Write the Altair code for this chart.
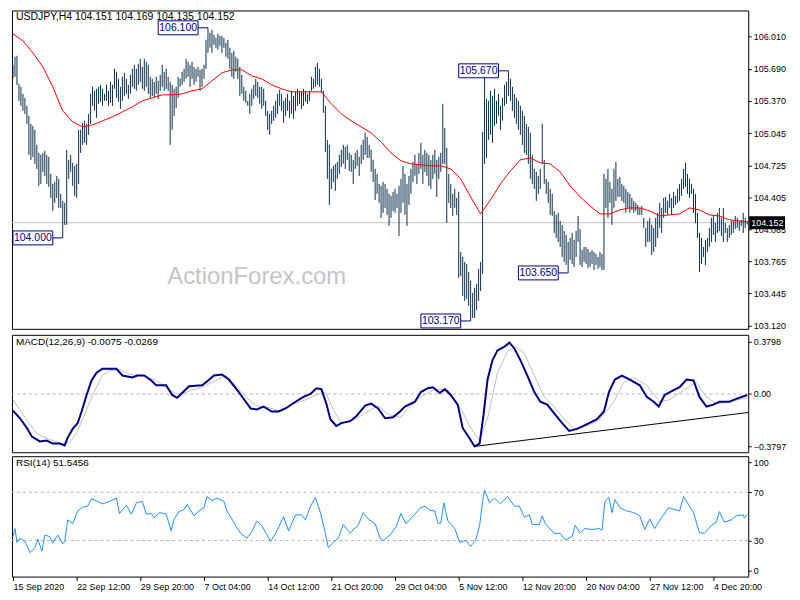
import altair as alt
import pandas as pd

# ---------------- data ----------------
title_main = "USDJPY,H4  104.151 104.169 104.135 104.152"
title_macd = "MACD(12,26,9) -0.0075 -0.0269"
title_rsi = "RSI(14) 51.5456"
last_price = 104.152
last_label = "104.152"

# H4 bars, high / low, ten bars per row
bar_high = [
    105.73, 105.81, 105.82, 105.54, 105.51, 105.44, 105.40, 105.32, 105.22, 105.14,
    105.12, 105.08, 104.93, 104.85, 104.83, 104.85, 104.87, 104.83, 104.81, 104.64,
    104.54, 104.56, 104.62, 104.59, 104.44, 104.37, 104.35, 104.88, 104.78, 104.83,
    104.75, 104.72, 104.74, 105.08, 105.08, 105.15, 105.17, 105.14, 105.24, 105.44,
    105.51, 105.47, 105.49, 105.51, 105.53, 105.49, 105.44, 105.53, 105.47, 105.56,
    105.53, 105.69, 105.66, 105.59, 105.51, 105.61, 105.65, 105.59, 105.53, 105.63,
    105.69, 105.73, 105.69, 105.74, 105.79, 105.71, 105.79, 105.76, 105.73, 105.61,
    105.59, 105.56, 105.61, 105.57, 105.63, 105.73, 105.66, 105.69, 105.61, 105.56,
    105.53, 105.49, 105.51, 105.61, 105.59, 105.66, 105.69, 105.79, 105.76, 105.73,
    105.76, 105.71, 105.69, 105.71, 105.68, 105.69, 105.73, 105.98, 106.10, 106.05,
    106.08, 106.03, 106.00, 106.04, 106.02, 106.02, 106.00, 105.95, 105.98, 105.90,
    105.85, 105.87, 105.81, 105.79, 105.71, 105.63, 105.51, 105.47, 105.37, 105.44,
    105.49, 105.53, 105.59, 105.56, 105.51, 105.51, 105.49, 105.37, 105.27, 105.24,
    105.27, 105.32, 105.37, 105.44, 105.48, 105.44, 105.37, 105.40, 105.44, 105.37,
    105.47, 105.42, 105.46, 105.49, 105.47, 105.46, 105.49, 105.47, 105.44, 105.47,
    105.61, 105.59, 105.71, 105.75, 105.69, 105.59, 105.47, 105.32, 104.98, 104.93,
    104.69, 104.72, 104.74, 104.76, 104.83, 104.88, 104.93, 104.91, 104.93, 104.85,
    104.83, 104.78, 104.85, 104.88, 104.81, 104.93, 104.98, 105.05, 105.01, 104.93,
    104.88, 104.78, 104.69, 104.64, 104.54, 104.52, 104.56, 104.54, 104.49, 104.44,
    104.42, 104.46, 104.49, 104.44, 104.52, 104.59, 104.72, 104.64, 104.54, 104.62,
    104.69, 104.76, 104.83, 104.74, 104.85, 104.95, 104.83, 104.88, 104.85, 104.83,
    104.78, 104.83, 104.88, 104.78, 104.81, 104.85, 105.34, 105.10, 104.90, 104.64,
    104.54, 104.44, 104.49, 104.40, 104.46, 103.86, 103.81, 103.76, 103.74, 103.66,
    103.57, 103.45, 103.50, 103.54, 103.69, 103.76, 105.06, 105.61, 105.39, 105.37,
    105.47, 105.42, 105.49, 105.37, 105.44, 105.32, 105.40, 105.53, 105.56, 105.67,
    105.59, 105.51, 105.44, 105.40, 105.37, 105.32, 105.27, 105.22, 105.14, 105.11,
    105.05, 104.83, 104.69, 104.66, 104.62, 104.69, 105.14, 104.78, 104.59, 104.56,
    104.49, 104.44, 104.27, 104.23, 104.25, 104.17, 104.13, 104.07, 104.03, 103.96,
    104.00, 104.05, 103.98, 104.07, 104.22, 104.09, 103.88, 103.91, 103.91, 103.89,
    103.86, 103.88, 103.86, 103.84, 103.81, 103.86, 103.84, 104.64, 104.59, 104.69,
    104.56, 104.49, 104.69, 104.76, 104.59, 104.61, 104.54, 104.52, 104.49, 104.46,
    104.44, 104.40, 104.37, 104.35, 104.33, 104.30, 104.32, 104.20, 104.10, 104.17,
    104.20, 104.13, 104.10, 104.20, 104.25, 104.35, 104.30, 104.40, 104.41, 104.37,
    104.44, 104.40, 104.46, 104.42, 104.49, 104.54, 104.59, 104.69, 104.75, 104.64,
    104.59, 104.54, 104.49, 104.44, 104.25, 104.05, 104.00, 103.91, 103.98, 104.00,
    104.10, 104.20, 104.23, 104.15, 104.25, 104.30, 104.20, 104.30, 104.15, 104.10,
    104.13, 104.17, 104.17, 104.22, 104.20, 104.17, 104.18, 104.25, 104.20, 104.169,
]
bar_low = [
    105.59, 105.61, 105.53, 105.37, 105.32, 105.27, 105.24, 105.14, 104.83, 104.78,
    104.81, 104.74, 104.69, 104.52, 104.54, 104.66, 104.62, 104.54, 104.51, 104.40,
    104.27, 104.35, 104.40, 104.30, 104.30, 104.00, 104.13, 104.13, 104.59, 104.66,
    104.52, 104.42, 104.40, 104.54, 104.85, 104.93, 104.95, 104.93, 105.03, 105.14,
    105.32, 105.27, 105.20, 105.34, 105.36, 105.32, 105.37, 105.37, 105.32, 105.35,
    105.32, 105.49, 105.40, 105.36, 105.29, 105.37, 105.42, 105.44, 105.39, 105.44,
    105.51, 105.49, 105.47, 105.53, 105.56, 105.49, 105.47, 105.51, 105.44, 105.40,
    105.42, 105.40, 105.44, 105.39, 105.47, 105.51, 105.47, 105.49, 105.47, 104.93,
    105.08, 105.22, 105.30, 105.40, 105.51, 105.53, 105.56, 105.59, 105.61, 105.51,
    105.59, 105.53, 105.56, 105.61, 105.47, 105.51, 105.59, 105.69, 105.85, 105.90,
    105.85, 105.93, 105.90, 105.88, 105.92, 105.85, 105.90, 105.81, 105.79, 105.69,
    105.61, 105.59, 105.66, 105.59, 105.42, 105.44, 105.37, 105.35, 105.32, 105.24,
    105.32, 105.39, 105.42, 105.40, 105.34, 105.29, 105.32, 105.22, 105.08, 105.03,
    105.14, 105.17, 105.20, 105.24, 105.32, 105.27, 105.15, 105.22, 105.27, 105.20,
    105.24, 105.19, 105.27, 105.32, 105.34, 105.29, 105.32, 105.36, 105.34, 105.37,
    105.47, 105.49, 105.51, 105.53, 105.51, 105.45, 105.25, 104.86, 104.59, 104.33,
    104.49, 104.56, 104.47, 104.59, 104.64, 104.71, 104.74, 104.69, 104.78, 104.67,
    104.66, 104.54, 104.69, 104.72, 104.62, 104.74, 104.78, 104.83, 104.80, 104.80,
    104.66, 104.56, 104.38, 104.44, 104.35, 104.20, 104.25, 104.30, 104.23, 104.12,
    104.20, 104.27, 104.25, 104.30, 104.02, 104.25, 104.35, 104.23, 104.12, 104.33,
    104.44, 104.56, 104.62, 104.54, 104.64, 104.69, 104.54, 104.66, 104.62, 104.52,
    104.49, 104.59, 104.64, 104.41, 104.59, 104.66, 104.74, 104.74, 104.15, 104.35,
    104.30, 104.22, 104.30, 104.23, 103.60, 103.62, 103.42, 103.37, 103.39, 103.32,
    103.17, 103.20, 103.20, 103.28, 103.37, 103.47, 103.64, 104.74, 104.80, 104.98,
    105.03, 104.95, 105.12, 105.14, 105.22, 105.08, 105.17, 105.32, 105.34, 105.42,
    105.37, 105.27, 105.20, 105.14, 105.08, 105.03, 104.93, 104.85, 104.83, 104.74,
    104.59, 104.54, 104.49, 104.37, 104.44, 104.49, 104.74, 104.54, 104.44, 104.35,
    104.23, 104.22, 104.05, 104.00, 103.96, 103.91, 103.81, 103.76, 103.73, 103.65,
    103.78, 103.74, 103.71, 103.81, 103.96, 103.73, 103.71, 103.76, 103.74, 103.70,
    103.71, 103.74, 103.68, 103.73, 103.69, 103.71, 103.68, 103.68, 104.30, 104.20,
    104.35, 104.13, 104.30, 104.37, 104.41, 104.41, 104.37, 104.35, 104.25, 104.30,
    104.25, 104.28, 104.25, 104.27, 104.23, 104.23, 104.23, 104.10, 103.91, 103.96,
    103.96, 103.83, 103.86, 103.91, 104.00, 104.10, 104.05, 104.20, 104.25, 104.23,
    104.30, 104.23, 104.30, 104.33, 104.35, 104.37, 104.42, 104.49, 104.51, 104.44,
    104.40, 104.44, 104.25, 104.15, 104.00, 103.66, 103.74, 103.81, 103.73, 103.86,
    103.91, 103.96, 104.03, 103.96, 104.05, 104.07, 104.02, 103.96, 104.05, 103.96,
    104.00, 104.03, 104.05, 104.09, 104.10, 104.07, 104.12, 104.05, 104.10, 104.135,
]

# moving average (red), sampled every 5 bars
ma_bar = list(range(0, 370, 5)) + [369]
ma_val = [
    106.04, 105.97, 105.85, 105.71, 105.51, 105.27, 105.16, 105.11, 105.13, 105.17,
    105.21, 105.26, 105.31, 105.37, 105.40, 105.43, 105.43, 105.44, 105.47, 105.49,
    105.57, 105.65, 105.68, 105.68, 105.62, 105.59, 105.53, 105.49, 105.46, 105.46,
    105.46, 105.46, 105.34, 105.24, 105.17, 105.11, 105.05, 104.96, 104.85, 104.77,
    104.74, 104.73, 104.72, 104.72, 104.69, 104.59, 104.41, 104.24, 104.38, 104.54,
    104.67, 104.78, 104.80, 104.75, 104.74, 104.66, 104.52, 104.41, 104.32, 104.24,
    104.24, 104.28, 104.30, 104.30, 104.27, 104.22, 104.23, 104.24, 104.30, 104.28,
    104.23, 104.22, 104.18, 104.17, 104.16,
]

# labelled extremes
ann_bar = [98, 249, 25, 230, 279]
ann_price = [106.10, 105.67, 104.00, 103.17, 103.65]
ann_text = ["106.100", "105.670", "104.000", "103.170", "103.650"]

price_ticks = [106.010, 105.690, 105.370, 105.045, 104.725, 104.405, 104.085, 103.765, 103.445, 103.120]

# MACD main line
macd_bar = [0, 3.5, 7, 9.5, 13.5, 17, 20, 23.5, 26, 27.5, 30, 32.5, 34.5, 37, 39.5, 42, 45, 52, 55, 60,
            62.5, 66, 69.5, 72, 77, 80, 82.5, 85, 88.5, 95, 97.5, 101, 105, 108.5, 113.5, 117, 119.5, 122.5,
            126, 130, 133.5, 137, 142, 146, 149.5, 152.5, 155, 157.5, 159.5, 162.5, 165, 169.5, 172.5, 177,
            180, 183.5, 187, 191, 194.5, 197, 202, 205, 208.5, 211, 214.5, 217, 220, 223.5, 226, 229.5, 232,
            234.5, 236.5, 238.5, 241, 243.5, 247, 249.5, 252, 255, 258.5, 262, 265, 268.5, 272, 276, 279.5,
            283.5, 288.5, 293.5, 297, 299.5, 302.5, 306, 310, 315, 318.5, 322, 324.5, 327.5, 332, 335, 338.5,
            342, 345, 348.5, 352, 355, 360, 363.5, 369]
macd_val = [-0.120, -0.176, -0.246, -0.309, -0.344, -0.337, -0.359, -0.359, -0.373, -0.316, -0.253, -0.211,
            -0.127, -0.007, 0.098, 0.155, 0.183, 0.183, 0.134, 0.120, 0.134, 0.134, 0.098, 0.063, 0.063,
            -0.007, -0.028, 0.007, 0.056, 0.063, 0.091, 0.134, 0.141, 0.105, 0.014, -0.056, -0.105, -0.112,
            -0.091, -0.127, -0.127, -0.105, -0.056, -0.021, 0.000, 0.042, 0.035, -0.070, -0.183, -0.232,
            -0.211, -0.197, -0.162, -0.084, -0.070, -0.105, -0.176, -0.169, -0.127, -0.091, -0.056, 0.014,
            0.042, 0.049, 0.007, 0.035, -0.007, -0.077, -0.246, -0.323, -0.380, -0.359, -0.148, 0.105, 0.246,
            0.316, 0.344, 0.373, 0.330, 0.246, 0.134, 0.014, -0.056, -0.077, -0.141, -0.211, -0.267, -0.253,
            -0.218, -0.183, -0.127, 0.014, 0.105, 0.134, 0.105, 0.063, -0.021, -0.056, -0.091, -0.007, 0.028,
            0.049, 0.105, 0.098, -0.021, -0.091, -0.077, -0.056, -0.056, -0.035, -0.0075]
# MACD signal line
sig_bar = [0, 5, 12, 18.5, 25, 28.5, 32, 35, 40, 45, 48.5, 53.5, 58.5, 65, 72, 78.5, 83.5, 88.5, 95, 102,
           107, 112, 117, 122, 128.5, 133.5, 140, 147, 153.5, 157, 161, 165, 172, 178.5, 183.5, 188.5, 195,
           198.5, 205, 212, 218.5, 225, 230, 234.5, 238.5, 243.5, 248.5, 252.5, 257, 262, 267, 272, 277, 282,
           288.5, 295, 302, 307, 312, 318.5, 325, 330, 337, 343.5, 348.5, 353.5, 360, 369]
sig_val = [-0.042, -0.148, -0.288, -0.330, -0.359, -0.352, -0.281, -0.183, -0.007, 0.134, 0.169, 0.176, 0.141,
           0.134, 0.098, 0.028, -0.007, 0.021, 0.049, 0.098, 0.134, 0.063, -0.021, -0.084, -0.098, -0.120,
           -0.077, -0.042, 0.000, 0.014, -0.112, -0.211, -0.183, -0.127, -0.084, -0.148, -0.169, -0.105,
           -0.021, 0.035, 0.028, -0.105, -0.246, -0.337, -0.176, 0.155, 0.309, 0.344, 0.295, 0.134, -0.021,
           -0.091, -0.183, -0.253, -0.232, -0.183, -0.056, 0.084, 0.120, 0.063, -0.056, -0.042, 0.028, 0.084,
           -0.021, -0.070, -0.056, -0.0269]
# MACD trend line end points
trend_bar = [232, 369.5]
trend_val = [-0.380, -0.134]
macd_ticks = [0.3798, 0.0, -0.3797]

# RSI(14)
rsi_bar = [0, 1, 2, 3.5, 6, 8.5, 11, 12.5, 14.5, 16, 18.5, 20, 22.5, 25, 26, 27.5, 30, 32.5, 35, 37.5,
           39.5, 42.5, 45, 48.5, 52, 53.5, 57, 59.5, 62, 65, 67, 69.5, 71, 73.5, 77, 79.5, 81, 83.5, 86, 87.5,
           91, 93.5, 96, 97.5, 100, 102.5, 106, 107.5, 110, 112.5, 114.5, 117.5, 120, 122.5, 125, 129.5, 132,
           136, 138.5, 142, 145, 147, 149.5, 152, 154.5, 157, 158.5, 161, 163.5, 166, 169.5, 171, 173.5, 176,
           178.5, 182, 184.5, 186, 189.5, 192.5, 195, 197.5, 202, 204.5, 207, 209.5, 212, 213.5, 215, 216.5,
           218.5, 222, 224.5, 227.5, 230, 232.5, 234.5, 236, 237, 239.5, 242, 245, 248.5, 252, 254.5, 257,
           259.5, 261, 264.5, 266, 267.5, 272, 275, 277.5, 281, 282.5, 285, 287.5, 291, 294.5, 296, 297.5,
           299.5, 301, 302.5, 305, 308.5, 312, 315, 317.5, 320, 322.5, 326, 329.5, 332, 335, 337, 339.5, 342,
           345, 347.5, 351, 353.5, 355, 357.5, 361, 363.5, 367, 367.5, 369]
rsi_val = [33.2, 39.9, 28.4, 31.9, 29.2, 19.9, 23.9, 31.1, 21.2, 34.5, 33.2, 27.9, 34.5, 27.3, 29.2, 47.1,
           43.9, 54.5, 57.7, 58.5, 64.7, 62.5, 60.4, 62.5, 65.2, 52.4, 59.3, 51.9, 61.2, 62.5, 51.9, 52.4,
           48.7, 53.2, 51.9, 38.0, 47.9, 54.0, 55.9, 59.9, 50.5, 54.5, 57.2, 66.5, 63.1, 65.2, 62.5, 54.5,
           47.9, 40.7, 35.9, 31.9, 37.2, 46.0, 42.5, 29.2, 35.9, 49.7, 38.0, 51.3, 51.3, 47.1, 58.5, 65.7,
           53.2, 35.9, 23.9, 28.4, 31.9, 43.3, 35.9, 39.1, 42.5, 53.2, 47.9, 43.9, 31.9, 30.0, 34.5, 41.2,
           52.4, 43.9, 51.9, 56.7, 58.5, 55.1, 54.5, 44.4, 44.4, 61.2, 46.5, 39.9, 28.4, 30.0, 25.2, 30.0,
           42.5, 62.5, 71.9, 61.2, 65.2, 60.4, 66.5, 58.5, 58.5, 49.2, 51.3, 43.3, 43.3, 50.5, 43.9, 35.9,
           35.9, 30.5, 33.2, 42.5, 36.4, 39.9, 39.1, 39.9, 38.5, 62.5, 65.7, 53.2, 63.9, 57.2, 54.5, 53.2,
           50.5, 39.1, 47.9, 39.9, 49.2, 57.2, 55.9, 54.5, 66.5, 59.9, 53.2, 36.4, 35.9, 42.5, 45.2, 54.0,
           45.2, 47.1, 50.5, 51.3, 48.7, 51.5]
rsi_levels = [70, 30]
rsi_ticks = [95, 70, 30, 5]

# time axis
date_tick_bars = [0, 32, 64, 96, 128, 160, 192, 224, 256, 288, 320, 352]
date_labels = ["15 Sep 2020", "22 Sep 12:00", "29 Sep 20:00", "7 Oct 04:00", "14 Oct 12:00",
               "21 Oct 20:00", "29 Oct 04:00", "5 Nov 12:00", "12 Nov 20:00", "20 Nov 04:00",
               "27 Nov 12:00", "4 Dec 20:00"]

# ---------------- layout / style ----------------
W = 740
H_MAIN, H_MACD, H_RSI = 320, 118, 121
FONT = "Liberation Sans"
BAR_COLOR = "#0a2f4a"
NAVY = "#000080"
XS = alt.Scale(domain=[-0.5, 369.5], nice=False, zero=False)
PS = alt.Scale(domain=[103.091, 106.273], nice=False, zero=False)
MS = alt.Scale(domain=[-0.422, 0.429], nice=False, zero=False)
RS = alt.Scale(domain=[0, 100], nice=False, zero=False)

price_axis = alt.Axis(orient="right", values=price_ticks, format=".3f", title=None)
macd_axis = alt.Axis(orient="right", values=macd_ticks, title=None,
                     labelExpr="datum.value == 0 ? '0.00' : format(datum.value, '.4f')")
rsi_axis = alt.Axis(orient="right", values=rsi_ticks, title=None,
                    labelExpr="datum.value > 90 ? '100' : (datum.value < 10 ? '0' : datum.label)")
date_expr = "[" + ",".join("'" + s + "'" for s in date_labels) + "][round(datum.value / 32)]"
time_axis = alt.Axis(orient="bottom", values=date_tick_bars, labelExpr=date_expr, labelAlign="left",
                     tickSize=4, labelPadding=2, title=None, labelOverlap=False, labelFlush=False)


def xq(field="bar", axis=None):
    return alt.X(f"{field}:Q", scale=XS, axis=axis)


def yp(field):
    return alt.Y(f"{field}:Q", scale=PS, axis=price_axis)


def ym(field):
    return alt.Y(f"{field}:Q", scale=MS, axis=macd_axis)


def yr(field):
    return alt.Y(f"{field}:Q", scale=RS, axis=rsi_axis)


def header(text, size=10.5):
    return alt.Chart(pd.DataFrame({"t": [text]})).mark_text(
        align="left", baseline="middle", font=FONT, fontSize=size, color="black"
    ).encode(x=alt.value(4), y=alt.value(7), text="t:N")


# ---- main price panel ----
df_bars = pd.DataFrame({"bar": list(range(len(bar_high))), "high": bar_high, "low": bar_low})
df_ma = pd.DataFrame({"bar": ma_bar, "ma": ma_val})
df_last = pd.DataFrame({"price": [last_price], "label": [last_label]})
df_ann = pd.DataFrame({"bar": ann_bar, "price": ann_price, "label": ann_text})

last_line = alt.Chart(df_last).mark_rule(color="#c0c0c0", strokeWidth=1).encode(y=yp("price"))
watermark = alt.Chart(pd.DataFrame({"t": ["ActionForex.com"]})).mark_text(
    font=FONT, fontSize=24, color="#c4c4c4", align="center", baseline="middle"
).encode(x=alt.value(246), y=alt.value(268), text="t:N")
bars = alt.Chart(df_bars).mark_rule(color=BAR_COLOR, strokeWidth=1).encode(
    x=xq(), y=yp("low"), y2="high")
ma_line = alt.Chart(df_ma).mark_line(color="#ff0000", strokeWidth=1).encode(x=xq(), y=yp("ma"))
ann_conn = alt.Chart(df_ann).mark_rule(color=NAVY, strokeWidth=1, xOffset=-10).encode(
    x=xq(), x2="bar", y=yp("price"))
ann_box = alt.Chart(df_ann).mark_rect(
    fill="white", stroke=NAVY, strokeWidth=1, xOffset=-50, x2Offset=-10, yOffset=-7, y2Offset=7
).encode(x=xq(), x2="bar", y=yp("price"), y2="price")
ann_txt = alt.Chart(df_ann).mark_text(
    color=NAVY, font=FONT, fontSize=10.5, align="center", baseline="middle", dx=-30
).encode(x=xq(), y=yp("price"), text="label:N")
tag_box = alt.Chart(df_last).mark_rule(color="black", strokeWidth=13).encode(
    y=yp("price"), x=alt.value(W + 1), x2=alt.value(W + 37))
tag_txt = alt.Chart(df_last).mark_text(
    color="white", font=FONT, fontSize=9, align="left", baseline="middle"
).encode(y=yp("price"), x=alt.value(W + 3), text="label:N")

main = alt.layer(
    last_line, watermark, bars, ma_line, ann_conn, ann_box, ann_txt, tag_box, tag_txt, header(title_main)
).properties(width=W, height=H_MAIN)

# ---- MACD panel ----
df_macd = pd.DataFrame({"bar": macd_bar, "macd": macd_val})
df_sig = pd.DataFrame({"bar": sig_bar, "sig": sig_val})
df_trend = pd.DataFrame({"bar": trend_bar, "tv": trend_val})
zero_line = alt.Chart(pd.DataFrame({"z": [0.0]})).mark_rule(
    color="#b4b4b4", strokeDash=[3, 3], strokeWidth=1).encode(y=ym("z"))
sig_line = alt.Chart(df_sig).mark_line(color="#c0c0c0", strokeWidth=1).encode(x=xq(), y=ym("sig"))
macd_line = alt.Chart(df_macd).mark_line(color=NAVY, strokeWidth=2).encode(x=xq(), y=ym("macd"))
trend_line = alt.Chart(df_trend).mark_line(color="black", strokeWidth=1).encode(x=xq(), y=ym("tv"))
macd = alt.layer(zero_line, sig_line, macd_line, trend_line, header(title_macd, 10)).properties(
    width=W, height=H_MACD)

# ---- RSI panel ----
df_rsi = pd.DataFrame({"bar": rsi_bar, "rsi": rsi_val})
lvl = alt.Chart(pd.DataFrame({"lv": rsi_levels})).mark_rule(
    color="#b4b4b4", strokeDash=[3, 3], strokeWidth=1).encode(y=yr("lv"))
rsi_line = alt.Chart(df_rsi).mark_line(color="#1e90ff", strokeWidth=1).encode(
    x=xq(axis=time_axis), y=yr("rsi"))
rsi = alt.layer(lvl, rsi_line, header(title_rsi, 10)).properties(width=W, height=H_RSI)

chart = alt.vconcat(main, macd, rsi, spacing=2).resolve_scale(
    y="independent", x="independent"
).properties(
    padding={"left": 0, "top": 0, "right": 0, "bottom": 0}, background="white"
).configure(
    padding={"left": 0, "top": 0, "right": 0, "bottom": 0}
).configure_view(
    stroke="black", strokeWidth=1
).configure_axis(
    labelFont=FONT, labelFontSize=9, labelColor="black", tickColor="black", tickSize=3,
    labelPadding=2, domain=False, grid=False
)

chart.save("out.html", embed_options={"renderer": "svg", "actions": False})
